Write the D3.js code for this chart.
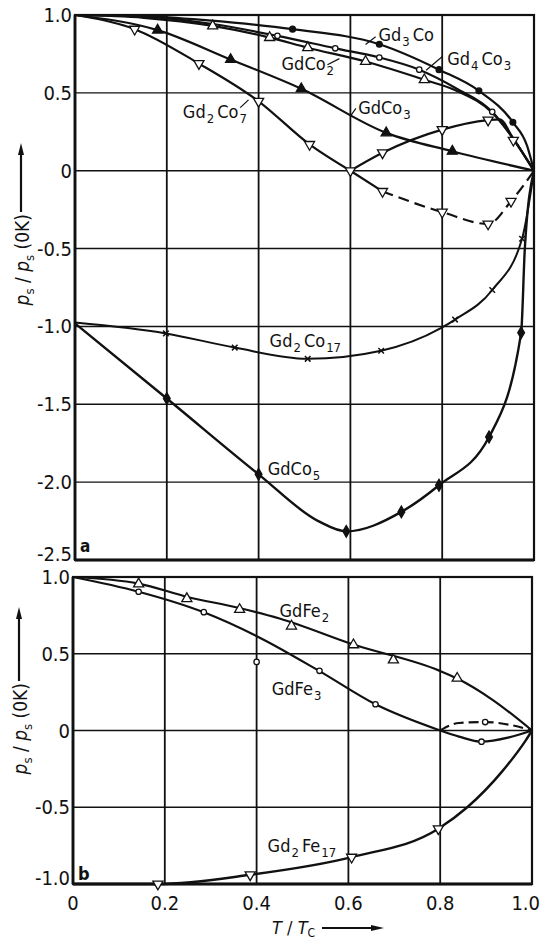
<!DOCTYPE html>
<html>
<head>
<meta charset="utf-8">
<script src="https://cdn.jsdelivr.net/npm/d3@7"></script>
<style>
  body { margin: 0; background: #fff; }
  svg { display: block; }
  text { font-family: "Liberation Sans Narrow", "DejaVu Sans Condensed", "Liberation Sans", sans-serif; fill: #111; }
</style>
</head>
<body>
<div id="chart"></div>
<script>
// ticks
const xTicks = [0, 0.2, 0.4, 0.6, 0.8, 1.0];
const xTickLabels = ['0', '0.2', '0.4', '0.6', '0.8', '1.0'];
const yTicksA = [1.0, 0.5, 0, -0.5, -1.0, -1.5, -2.0, -2.5];
const yTickLabelsA = ['1.0', '0.5', '0', '-0.5', '-1.0', '-1.5', '-2.0', '-2.5'];
const yTicksB = [1.0, 0.5, 0, -0.5, -1.0];
const yTickLabelsB = ['1.0', '0.5', '0', '-0.5', '-1.0'];

// panel a  (T/Tc , ps/ps(0K))
const gd3CoLine = [[0, 1], [0.15, 0.993], [0.29, 0.965], [0.474, 0.909], [0.663, 0.812], [0.793, 0.649], [0.88, 0.513], [0.954, 0.311], [0.985, 0.16], [1, 0]];
const gd3CoMarks = [[0.474, 0.909], [0.663, 0.812], [0.793, 0.649], [0.88, 0.513], [0.954, 0.311]];

const gd4Co3Line = [[0, 1], [0.15, 0.99], [0.3, 0.942], [0.441, 0.866], [0.567, 0.786], [0.663, 0.727], [0.75, 0.649], [0.83, 0.53], [0.909, 0.378], [0.955, 0.205], [1, 0]];
const gd4Co3Marks = [[0.441, 0.866], [0.567, 0.786], [0.663, 0.727], [0.75, 0.649], [0.909, 0.378]];

const gdCo2Line = [[0, 1], [0.15, 0.982], [0.3, 0.93], [0.424, 0.855], [0.507, 0.79], [0.633, 0.701], [0.761, 0.584], [0.83, 0.515], [0.909, 0.372], [0.955, 0.205], [1, 0]];
const gdCo2Marks = [[0.3, 0.93], [0.424, 0.855], [0.507, 0.79], [0.633, 0.701], [0.761, 0.584]];

const gd2Co7Line = [[0, 1], [0.13, 0.909], [0.27, 0.688], [0.4, 0.446], [0.511, 0.169], [0.6, 0]];
const gd2Co7Up = [[0.6, 0], [0.67, 0.115], [0.8, 0.264], [0.9, 0.325], [0.925, 0.33], [0.955, 0.205], [1, 0]];
const gd2Co7Down = [[0.6, 0], [0.67, -0.133], [0.8, -0.266], [0.9, -0.342], [0.95, -0.196], [1, 0]];
const gd2Co7Marks = [[0.13, 0.909], [0.27, 0.688], [0.4, 0.446], [0.511, 0.169], [0.6, 0], [0.67, 0.115], [0.8, 0.264], [0.9, 0.325], [0.955, 0.196], [0.67, -0.133], [0.8, -0.266], [0.9, -0.342], [0.95, -0.196]];

const gdCo3Line = [[0, 1], [0.18, 0.903], [0.339, 0.714], [0.493, 0.526], [0.678, 0.243], [0.822, 0.125], [1, 0]];
const gdCo3Marks = [[0.18, 0.903], [0.339, 0.714], [0.493, 0.526], [0.678, 0.243], [0.822, 0.125]];

const gd2Co17Line = [[0, -0.975], [0.198, -1.045], [0.348, -1.136], [0.507, -1.208], [0.667, -1.156], [0.796, -1.013], [0.828, -0.956], [0.909, -0.766], [0.974, -0.437], [1, 0]];
const gd2Co17Marks = [[0.198, -1.045], [0.348, -1.136], [0.507, -1.208], [0.667, -1.156], [0.828, -0.956], [0.909, -0.766], [0.974, -0.437]];

const gdCo5Line = [[0, -0.98], [0.2, -1.463], [0.4, -1.95], [0.53, -2.25], [0.591, -2.316], [0.711, -2.191], [0.793, -2.02], [0.902, -1.71], [0.972, -1.04], [0.98, -0.5], [1, 0]];
const gdCo5Marks = [[0.2, -1.463], [0.4, -1.95], [0.591, -2.316], [0.711, -2.191], [0.793, -2.02], [0.902, -1.71], [0.972, -1.04]];

// panel b
const gdFe2Line = [[0, 1], [0.143, 0.957], [0.25, 0.87], [0.36, 0.8], [0.45, 0.73], [0.611, 0.56], [0.798, 0.39], [0.836, 0.34], [0.914, 0.2], [1, 0]];
const gdFe2Marks = [[0.143, 0.955], [0.248, 0.859], [0.363, 0.788], [0.476, 0.68], [0.611, 0.558], [0.698, 0.46], [0.837, 0.34]];

const gdFe3Line = [[0, 1], [0.143, 0.904], [0.285, 0.77], [0.41, 0.6], [0.537, 0.387], [0.659, 0.171], [0.8, 0]];
const gdFe3Up = [[0.8, 0], [0.841, 0.049], [0.898, 0.055], [0.95, 0.038], [1, 0]];
const gdFe3Down = [[0.8, 0], [0.841, -0.04], [0.89, -0.073], [0.95, -0.045], [1, 0]];
const gdFe3Marks = [[0.143, 0.904], [0.285, 0.771], [0.4, 0.447], [0.537, 0.389], [0.659, 0.171], [0.898, 0.055], [0.89, -0.073]];

const gd2Fe17Line = [[0, -1], [0.185, -1.0], [0.386, -0.94], [0.607, -0.825], [0.796, -0.64], [0.859, -0.5], [0.936, -0.263], [0.986, -0.066], [1, 0]];
const gd2Fe17Marks = [[0.185, -1.0], [0.386, -0.94], [0.607, -0.825], [0.796, -0.64]];

const svg = d3.select('#chart').append('svg')
  .attr('width', 541)
  .attr('height', 939);

const xA = d3.scaleLinear().domain([0, 1]).range([75, 534]);
const yA = d3.scaleLinear().domain([-2.5, 1]).range([560, 15]);
const xB = d3.scaleLinear().domain([0, 1]).range([73, 532]);
const yB = d3.scaleLinear().domain([-1, 1]).range([884, 577]);

function panel(x, y, yTicks, yLabels) {
  const g = svg.append('g');
  const [x0, x1] = x.range();
  const [y0, y1] = y.range();
  // grid
  g.selectAll('.vg').data(xTicks.slice(1, -1)).enter().append('line')
    .attr('x1', d => x(d)).attr('x2', d => x(d))
    .attr('y1', y1).attr('y2', y0)
    .attr('stroke', '#111').attr('stroke-width', 1.8);
  g.selectAll('.hg').data(yTicks).enter().append('line')
    .attr('x1', x0).attr('x2', x1)
    .attr('y1', d => y(d)).attr('y2', d => y(d))
    .attr('stroke', '#111').attr('stroke-width', 1.4);
  g.append('rect')
    .attr('x', x0).attr('y', y1)
    .attr('width', x1 - x0).attr('height', y0 - y1)
    .attr('fill', 'none').attr('stroke', '#111').attr('stroke-width', 2.2);
  g.append('line').attr('x1', x0).attr('x2', x0).attr('y1', y1).attr('y2', y0)
    .attr('stroke', '#111').attr('stroke-width', 2.8);
  g.append('line').attr('x1', x0).attr('x2', x1).attr('y1', y0).attr('y2', y0)
    .attr('stroke', '#111').attr('stroke-width', 2.8);
  // y tick labels
  g.selectAll('.yl').data(yTicks).enter().append('text')
    .attr('x', x0 - 3)
    .attr('y', (d, i) => y(d) + (i === yTicks.length - 1 ? 1 : 7))
    .attr('text-anchor', 'end')
    .attr('font-size', 20)
    .text((d, i) => yLabels[i]);
  return g;
}

const gA = panel(xA, yA, yTicksA, yTickLabelsA);
const gB = panel(xB, yB, yTicksB, yTickLabelsB);

// x tick labels (bottom only); last one pulled in from the page edge
svg.selectAll('.xl').data(xTicks).enter().append('text')
  .attr('x', (d, i) => i === xTicks.length - 1 ? 540 : xB(d))
  .attr('y', 910)
  .attr('text-anchor', (d, i) => i === xTicks.length - 1 ? 'end' : 'middle')
  .attr('font-size', 20)
  .text((d, i) => xTickLabels[i]);

function drawLine(g, x, y, pts, dash, w) {
  const line = d3.line().x(d => x(d[0])).y(d => y(d[1])).curve(d3.curveMonotoneX);
  g.append('path')
    .attr('d', line(pts))
    .attr('fill', 'none')
    .attr('stroke', '#111')
    .attr('stroke-width', w || 2.2)
    .attr('stroke-dasharray', dash || null);
}

function drawMarks(g, x, y, pts, type) {
  const sel = g.append('g').selectAll('path').data(pts).enter();
  if (type === 'dot' || type === 'circle') {
    sel.append('circle')
      .attr('cx', d => x(d[0])).attr('cy', d => y(d[1]))
      .attr('r', type === 'dot' ? 2.9 : 2.7)
      .attr('fill', type === 'dot' ? '#111' : '#fff')
      .attr('stroke', '#111').attr('stroke-width', 1.3);
    return;
  }
  const shapes = {
    up: d3.symbolTriangle, down: d3.symbolTriangle, upFill: d3.symbolTriangle,
    cross: d3.symbolX, diamond: d3.symbolDiamond
  };
  const sizes = { up: 44, down: 44, upFill: 44, cross: 22, diamond: 40 };
  sel.append('path')
    .attr('d', d3.symbol().type(shapes[type]).size(sizes[type]))
    .attr('transform', d => `translate(${x(d[0])},${y(d[1])})` + (type === 'down' ? ' rotate(180)' : ''))
    .attr('fill', (type === 'upFill' || type === 'diamond') ? '#111' : (type === 'cross' ? 'none' : '#fff'))
    .attr('stroke', '#111')
    .attr('stroke-width', type === 'cross' ? 1.5 : 1.3);
}

// panel a curves
drawLine(gA, xA, yA, gd3CoLine);
drawLine(gA, xA, yA, gd4Co3Line);
drawLine(gA, xA, yA, gdCo2Line);
drawLine(gA, xA, yA, gdCo3Line);
drawLine(gA, xA, yA, gd2Co7Line);
drawLine(gA, xA, yA, gd2Co7Up);
drawLine(gA, xA, yA, gd2Co7Down.slice(1), '11,6');
drawLine(gA, xA, yA, gd2Co7Down.slice(0, 2));
drawLine(gA, xA, yA, gd2Co17Line, null, 2);
drawLine(gA, xA, yA, gdCo5Line, null, 2.4);

drawMarks(gA, xA, yA, gd3CoMarks, 'dot');
drawMarks(gA, xA, yA, gd4Co3Marks, 'circle');
drawMarks(gA, xA, yA, gdCo2Marks, 'up');
drawMarks(gA, xA, yA, gdCo3Marks, 'upFill');
drawMarks(gA, xA, yA, gd2Co7Marks, 'down');
drawMarks(gA, xA, yA, gd2Co17Marks, 'cross');
drawMarks(gA, xA, yA, gdCo5Marks, 'diamond');

// panel b curves
drawLine(gB, xB, yB, gdFe2Line);
drawLine(gB, xB, yB, gdFe3Line);
drawLine(gB, xB, yB, gdFe3Up, '10,5');
drawLine(gB, xB, yB, gdFe3Down);
drawLine(gB, xB, yB, gd2Fe17Line, null, 2.4);

drawMarks(gB, xB, yB, gdFe2Marks, 'up');
drawMarks(gB, xB, yB, gdFe3Marks, 'circle');
drawMarks(gB, xB, yB, gd2Fe17Marks, 'down');

// compound labels, digits set as subscripts
function formula(g, x, y, str) {
  const t = g.append('text').attr('x', x).attr('y', y).attr('font-size', 18);
  const parts = str.match(/\d+|\D+/g);
  parts.forEach((p, i) => {
    const sub = /\d/.test(p);
    t.append('tspan')
      .attr('font-size', sub ? 13 : 18)
      .attr('dy', sub ? 5 : (i > 0 ? -5 : 0))
      .attr('dx', sub ? 1 : (i > 0 ? 3 : 0))
      .text(p);
  });
}

const labelsA = [
  ['Gd3Co', 0.661, 0.833], ['Gd4Co3', 0.811, 0.679], ['GdCo2', 0.45, 0.647],
  ['GdCo3', 0.617, 0.364], ['Gd2Co7', 0.235, 0.338], ['Gd2Co17', 0.424, -1.134],
  ['GdCo5', 0.42, -1.956]
];
labelsA.forEach(d => formula(gA, xA(d[1]), yA(d[2]), d[0]));

const labelsB = [['GdFe2', 0.45, 0.74], ['GdFe3', 0.433, 0.231], ['Gd2Fe17', 0.424, -0.79]];
labelsB.forEach(d => formula(gB, xB(d[1]), yB(d[2]), d[0]));

// leader strokes from labels to curves
const leadersA = [
  [[0.633, 0.81], [0.655, 0.86]],
  [[0.801, 0.735], [0.765, 0.645]],
  [[0.55, 0.68], [0.576, 0.72]],
  [[0.6, 0.35], [0.612, 0.4]],
  [[0.36, 0.405], [0.378, 0.455]]
];
leadersA.forEach(l => {
  gA.append('line')
    .attr('x1', xA(l[0][0])).attr('y1', yA(l[0][1]))
    .attr('x2', xA(l[1][0])).attr('y2', yA(l[1][1]))
    .attr('stroke', '#111').attr('stroke-width', 1.2);
});

// panel letters
gA.append('text').attr('x', 80).attr('y', 552)
  .attr('font-family', 'Liberation Serif, serif').attr('font-weight', 'bold').attr('font-size', 17).text('a');
gB.append('text').attr('x', 78).attr('y', 880)
  .attr('font-family', 'Liberation Serif, serif').attr('font-weight', 'bold').attr('font-size', 18).text('b');

// y axis titles
function yTitle(cx, yEnd, yHead) {
  const t = svg.append('text')
    .attr('transform', `translate(${cx + 8},${yEnd}) rotate(-90)`)
    .attr('text-anchor', 'end')
    .attr('font-size', 19);
  t.append('tspan').attr('font-style', 'italic').text('p');
  t.append('tspan').attr('font-size', 13).attr('dy', 5).text('s');
  t.append('tspan').attr('dy', -5).text(' / ');
  t.append('tspan').attr('font-style', 'italic').text('p');
  t.append('tspan').attr('font-size', 13).attr('dy', 5).text('s');
  t.append('tspan').attr('dy', -5).text(' (0K)');
  svg.append('line')
    .attr('x1', cx).attr('x2', cx).attr('y1', yEnd - 2).attr('y2', yHead + 8)
    .attr('stroke', '#111').attr('stroke-width', 2.2);
  svg.append('path')
    .attr('d', `M${cx},${yHead} L${cx - 3},${yHead + 12} L${cx + 3},${yHead + 12} Z`)
    .attr('fill', '#111');
}
yTitle(21, 214, 143);
yTitle(19, 683, 607);

// x axis title
const xt = svg.append('text').attr('x', 272).attr('y', 934).attr('font-size', 18);
xt.append('tspan').attr('font-style', 'italic').text('T');
xt.append('tspan').text(' / ');
xt.append('tspan').attr('font-style', 'italic').text('T');
xt.append('tspan').attr('font-size', 12).attr('dy', 3).text('C');
svg.append('line').attr('x1', 322).attr('x2', 372).attr('y1', 928).attr('y2', 928)
  .attr('stroke', '#111').attr('stroke-width', 2.2);
svg.append('path').attr('d', 'M384,928 L371,925 L371,931 Z').attr('fill', '#111');
</script>
</body>
</html>
